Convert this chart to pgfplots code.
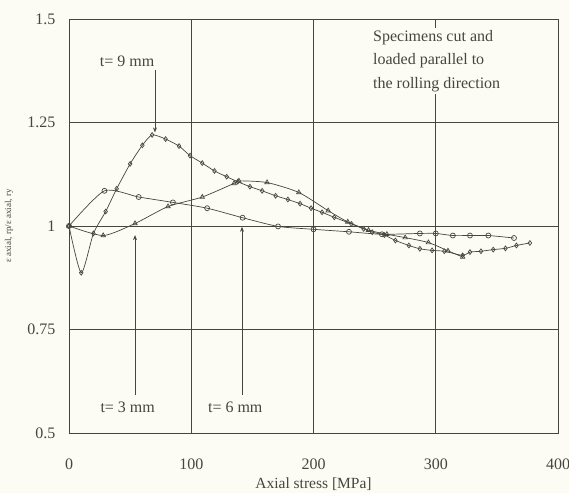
\documentclass[border=0pt]{standalone}
\usepackage{pgfplots}
\pgfplotsset{compat=1.18}
\usetikzlibrary{arrows.meta}
\usepackage{fontspec}
\setmainfont{Liberation Serif}
\definecolor{bgc}{RGB}{252,252,244}
\definecolor{ln}{RGB}{70,70,64}
\begin{document}
\begin{tikzpicture}
\fill[bgc] (-69pt,-60pt) rectangle (500pt,433pt);
\useasboundingbox (-69pt,-60pt) rectangle (500pt,433pt);
\begin{axis}[
  at={(0pt,0pt)}, anchor=south west,
  scale only axis, width=489pt, height=414pt,
  xmin=0, xmax=400, ymin=0.5, ymax=1.5,
  xtick={0,100,200,300,400},
  ytick={0.5,0.75,1,1.25,1.5},
  yticklabels={0.5,0.75,1,1.25,1.5},
  grid=major,
  major grid style={ln, line width=0.8pt},
  axis line style={ln, line width=0.8pt},
  major tick length=0pt,
  axis background/.style={fill=bgc},
  /pgf/number format/assume math mode=true,
  tick label style={font=\fontsize{16}{18}\selectfont, text=ln},
  xticklabel style={yshift=-22pt},
  yticklabel style={xshift=-10pt},
  xlabel={Axial stress [MPa]},
  ylabel={ε axial, rp/ε axial, ry},
  every axis x label/.style={at={(axis description cs:0.5,0)}, yshift=-51pt, anchor=center, font=\fontsize{15.5}{17}\selectfont, text=ln},
  every axis y label/.style={at={(axis description cs:0,0.5)}, xshift=-60pt, rotate=90, anchor=center, font=\fontsize{9}{10}\selectfont, text=ln},
  clip=false,
]
% t = 9 mm
\addplot[ln, line width=0.7pt, smooth, tension=0.4, mark=diamond, mark size=2.4pt, mark options={fill=bgc, solid}] coordinates {
(0,1) (10,0.887) (20,0.982) (30,1.035) (39,1.09) (50,1.15) (60,1.195) (68,1.22) (79,1.21) (90,1.193) (99,1.17) (109,1.152) (119,1.133) (129,1.119) (138,1.107) (148,1.095) (158,1.085) (169,1.073) (179,1.064) (189,1.054) (198,1.043) (207,1.033) (217,1.021) (231,1.005) (241,0.993) (248,0.985) (258,0.978) (267,0.965) (278,0.953) (287,0.945) (297,0.941) (307,0.939) (322,0.929) (328,0.937) (337,0.939) (347,0.943) (357,0.946) (366,0.953) (377,0.959)
};
% t = 3 mm
\addplot[ln, line width=0.7pt, smooth, tension=0.4, mark=triangle, mark size=2.6pt, mark options={fill=bgc, solid}] coordinates {
(0,1) (28,0.977) (54,1.006) (81,1.047) (109,1.07) (135,1.103) (139,1.109) (162,1.105) (188,1.081) (212,1.037) (228,1.01) (245,0.99) (260,0.98) (275,0.972) (294,0.96) (310,0.94) (322,0.925)
};
% t = 6 mm
\addplot[ln, line width=0.7pt, smooth, tension=0.4, mark=o, mark size=2.5pt, mark options={fill=bgc, solid}] coordinates {
(0,1) (29,1.085) (57,1.07) (85,1.057) (113,1.043) (142,1.02) (171,0.999) (200,0.992) (229,0.986) (256,0.98) (287,0.982) (300,0.982) (314,0.977) (328,0.977) (343,0.977) (364,0.971)
};
% annotations
\draw[ln, line width=0.7pt, -{Stealth[length=5pt,width=4pt]}] (axis cs:70.3,1.377) -- (axis cs:70.3,1.226);
\node[text=ln, font=\fontsize{16}{18}\selectfont] at (axis cs:47.5,1.397) {t= 9 mm};
\draw[ln, line width=0.7pt, -{Stealth[length=5pt,width=4pt]}] (axis cs:54,0.592) -- (axis cs:54,0.978);
\node[text=ln, font=\fontsize{16}{18}\selectfont] at (axis cs:48,0.562) {t=\ 3 mm};
\draw[ln, line width=0.7pt, -{Stealth[length=5pt,width=4pt]}] (axis cs:141.5,0.592) -- (axis cs:141.5,0.998);
\node[text=ln, font=\fontsize{16}{18}\selectfont] at (axis cs:136,0.562) {t= 6 mm};
\node[text=ln, fill=bgc, align=left, anchor=north west, inner sep=2pt, font=\fontsize{16}{23.5}\selectfont] at (axis cs:247,1.478) {Specimens cut and\\loaded parallel to\\the rolling direction};
\end{axis}
\end{tikzpicture}
\end{document}
